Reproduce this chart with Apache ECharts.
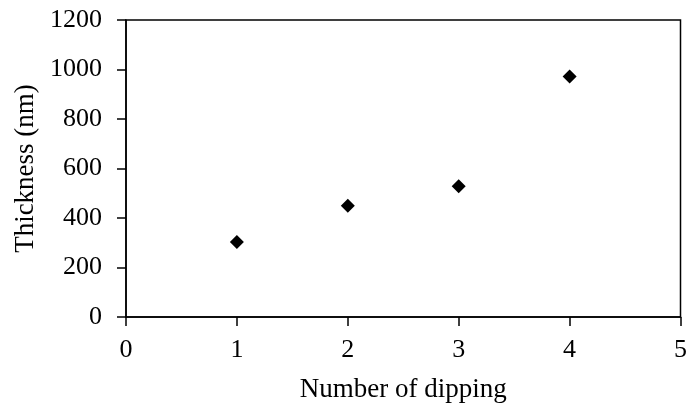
<!DOCTYPE html>
<html>
<head>
<meta charset="utf-8">
<script src="https://cdn.jsdelivr.net/npm/echarts@6/dist/echarts.min.js"></script>
<style>html,body{margin:0;padding:0;background:#fff}#c{width:690px;height:408px}</style>
</head>
<body>
<div id="c"></div>
<script>
const dippings = [1, 2, 3, 4];
const thickness = [303, 450, 528, 972];
const xTicks = [0, 1, 2, 3, 4, 5];
const yTicks = [0, 200, 400, 600, 800, 1000, 1200];

const chart = echarts.init(document.getElementById('c'));
const font = 'Liberation Serif, Times New Roman, serif';
chart.setOption({
  animation: false,
  grid: { left: 126, right: 6, top: 20, bottom: 90, show: true, borderColor: '#000', borderWidth: 1.5, backgroundColor: 'transparent' },
  xAxis: {
    type: 'value', min: xTicks[0], max: xTicks[xTicks.length - 1], interval: 1,
    name: 'Number of dipping', nameLocation: 'middle', nameGap: 59,
    nameTextStyle: { fontFamily: font, fontSize: 27, color: '#000' },
    axisLine: { show: true, lineStyle: { color: '#000', width: 1.5 } },
    axisTick: { show: true, inside: false, length: 9, lineStyle: { color: '#000', width: 1.5 } },
    axisLabel: { fontFamily: font, fontSize: 26, color: '#000', margin: 20, formatter: v => String(v) },
    splitLine: { show: false }
  },
  yAxis: {
    type: 'value', min: yTicks[0], max: yTicks[yTicks.length - 1], interval: 200,
    name: 'Thickness (nm)', nameLocation: 'middle', nameGap: 84,
    nameTextStyle: { fontFamily: font, fontSize: 27, color: '#000' },
    axisLine: { show: true, lineStyle: { color: '#000', width: 1.5 } },
    axisTick: { show: true, inside: false, length: 9, lineStyle: { color: '#000', width: 1.5 } },
    axisLabel: { fontFamily: font, fontSize: 26, color: '#000', margin: 24, formatter: v => String(v) },
    splitLine: { show: false }
  },
  series: [{
    type: 'scatter',
    symbol: 'diamond',
    symbolSize: 14,
    itemStyle: { color: '#000', opacity: 1 },
    data: dippings.map((d, i) => [d, thickness[i]])
  }]
});
</script>
</body>
</html>
